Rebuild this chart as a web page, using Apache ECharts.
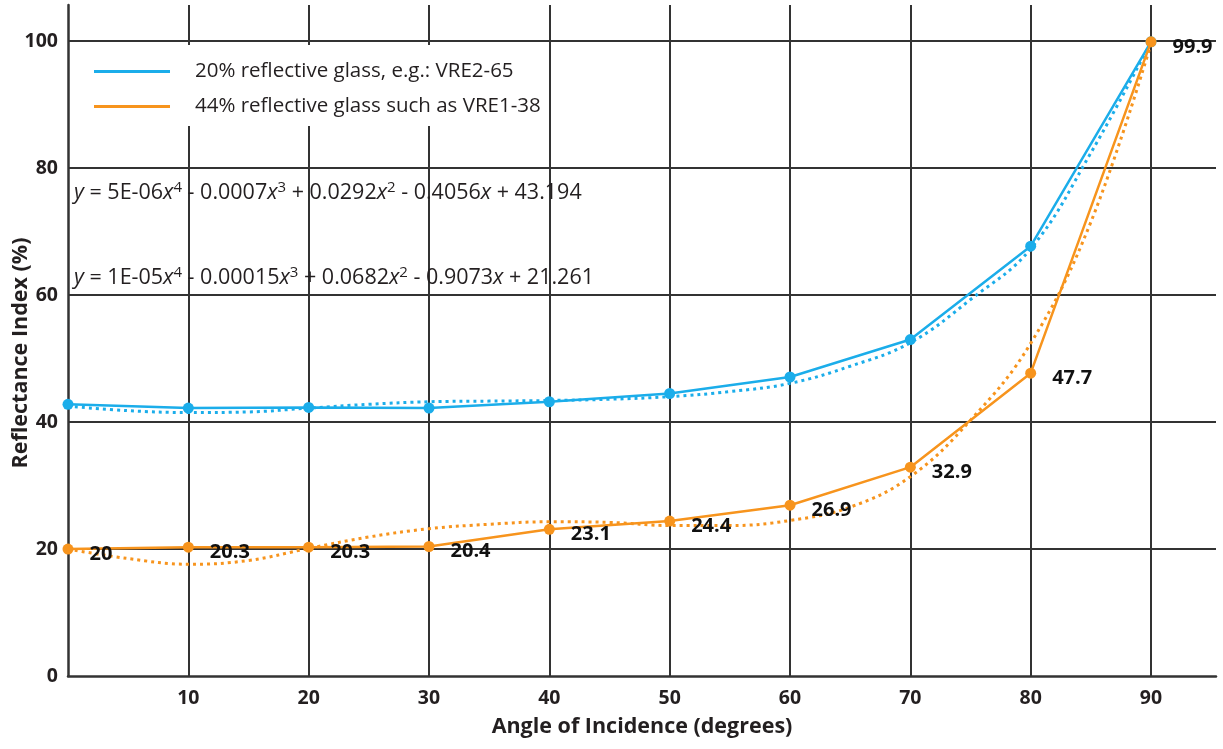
<!DOCTYPE html>
<html>
<head>
<meta charset="utf-8">
<script src="https://cdn.jsdelivr.net/npm/echarts@6/dist/echarts.min.js"></script>
<style>
html,body{margin:0;padding:0;background:#fff;}
#chart{width:1223px;height:749px;}
</style>
</head>
<body>
<div id="chart"></div>
<script>
// ---- data ----
const angles = [0, 10, 20, 30, 40, 50, 60, 70, 80, 90];
const glass20 = [42.8, 42.2, 42.3, 42.2, 43.2, 44.5, 47.1, 53.0, 67.7, 99.9];
const glass44 = [20, 20.3, 20.3, 20.4, 23.1, 24.4, 26.9, 32.9, 47.7, 99.9];
const trendAngles = [0, 5, 10, 15, 20, 25, 30, 35, 40, 45, 50, 55, 60, 65, 70, 75, 80, 85, 90];
const trend20 = [42.5, 41.8, 41.5, 41.6, 42.2, 42.8, 43.2, 43.3, 43.4, 43.6, 44.0, 44.8, 46.1, 48.8, 52.5, 59.3, 67.3, 82.4, 99.9];
const trend44 = [20.0, 18.5, 17.6, 18.2, 20.1, 21.9, 23.2, 23.9, 24.3, 24.2, 23.7, 23.7, 24.5, 26.6, 31.4, 40.3, 52.4, 71.5, 99.6];
const seriesNames = ['20% reflective glass, e.g.: VRE2-65', '44% reflective glass such as VRE1-38'];
const equations = [
  '{i|y} = 5E-06{i|x}{s|4} - 0.0007{i|x}{s|3} + 0.0292{i|x}{s|2} - 0.4056{i|x} + 43.194',
  '{i|y} = 1E-05{i|x}{s|4} - 0.00015{i|x}{s|3} + 0.0682{i|x}{s|2} - 0.9073{i|x} + 21.261'
];
const xTitle = 'Angle of Incidence (degrees)';
const yTitle = 'Reflectance Index (%)';

const BLUE = '#1badea';
const ORANGE = '#f7941d';
const GRIDC = '#333333';
const FONT = '"Open Sans", "Noto Sans", sans-serif';

const pairs = (xs, ys) => xs.map((x, i) => [x, ys[i]]);

const eqRich = {
  i: { fontStyle: 'italic', fontSize: 21.5, fontFamily: FONT, color: '#555', lineHeight: 26 },
  s: { fontSize: 15, fontFamily: FONT, verticalAlign: 'top', lineHeight: 15, color: '#231f20' }
};

const chart = echarts.init(document.getElementById('chart'), null, { renderer: 'canvas' });
chart.setOption({
  backgroundColor: '#ffffff',
  animation: false,
  grid: { left: 68, right: 7, top: 5, bottom: 73, containLabel: false, outerBoundsMode: 'none' },
  legend: {
    data: seriesNames,
    orient: 'vertical',
    left: 70,
    top: 45,
    padding: [16, 4, 9, 24],
    itemGap: 14,
    itemWidth: 76,
    itemHeight: 3,
    icon: 'rect',
    backgroundColor: '#ffffff',
    textStyle: { fontFamily: FONT, fontSize: 20.5, color: '#231f20', padding: [0, 0, 0, 20] }
  },
  xAxis: {
    type: 'value',
    min: 0,
    max: 95.4,
    interval: 10,
    name: xTitle,
    nameLocation: 'middle',
    nameGap: 40,
    nameMoveOverlap: false,
    nameTextStyle: { fontFamily: FONT, fontSize: 21.5, fontWeight: 'bold', color: '#231f20' },
    axisLine: { show: true, onZero: false, lineStyle: { color: GRIDC, width: 2.5 } },
    axisTick: { show: false },
    axisLabel: {
      showMinLabel: false, showMaxLabel: false, margin: 12,
      fontFamily: FONT, fontSize: 19.5, fontWeight: 'bold', color: '#231f20'
    },
    splitLine: { show: true, showMinLine: false, showMaxLine: false, lineStyle: { color: GRIDC, width: 2 } }
  },
  yAxis: {
    type: 'value',
    min: 0,
    max: 105.7,
    interval: 20,
    name: yTitle,
    nameLocation: 'middle',
    nameGap: 36,
    nameRotate: 90,
    nameMoveOverlap: false,
    nameTextStyle: { fontFamily: FONT, fontSize: 21.5, fontWeight: 'bold', color: '#231f20', padding: [0, 25, 0, 0] },
    axisLine: { show: true, onZero: false, lineStyle: { color: GRIDC, width: 2.5 } },
    axisTick: { show: false },
    axisLabel: {
      showMaxLabel: false, margin: 10,
      fontFamily: FONT, fontSize: 19.5, fontWeight: 'bold', color: '#231f20'
    },
    splitLine: { show: true, showMinLine: false, showMaxLine: false, lineStyle: { color: GRIDC, width: 2 } }
  },
  graphic: equations.map((t, k) => ({
    type: 'text',
    left: 74,
    top: k === 0 ? 180 : 265,
    z: 10,
    style: {
      text: t,
      fontFamily: FONT,
      fontSize: 21.5,
      fill: '#231f20',
      rich: eqRich
    }
  })),
  series: [
    {
      name: 'trend20',
      type: 'line',
      data: pairs(trendAngles, trend20),
      smooth: 0.4,
      showSymbol: false,
      symbol: 'none',
      silent: true,
      z: 2,
      lineStyle: { color: BLUE, width: 3, type: [3, 4] }
    },
    {
      name: 'trend44',
      type: 'line',
      data: pairs(trendAngles, trend44),
      smooth: 0.4,
      showSymbol: false,
      symbol: 'none',
      silent: true,
      z: 2,
      lineStyle: { color: ORANGE, width: 3, type: [3, 4] }
    },
    {
      name: seriesNames[0],
      type: 'line',
      data: pairs(angles, glass20),
      symbol: 'circle',
      symbolSize: 11,
      z: 3,
      itemStyle: { color: BLUE },
      lineStyle: { color: BLUE, width: 2.5 }
    },
    {
      name: seriesNames[1],
      type: 'line',
      data: pairs(angles, glass44),
      symbol: 'circle',
      symbolSize: 11,
      z: 4,
      itemStyle: { color: ORANGE },
      lineStyle: { color: ORANGE, width: 2.5 },
      label: {
        show: true,
        position: 'right',
        distance: 16,
        offset: [0, 5],
        fontFamily: FONT,
        fontSize: 20,
        fontWeight: 'bold',
        color: '#111111',
        formatter: p => String(p.value[1])
      }
    }
  ]
});
</script>
</body>
</html>
